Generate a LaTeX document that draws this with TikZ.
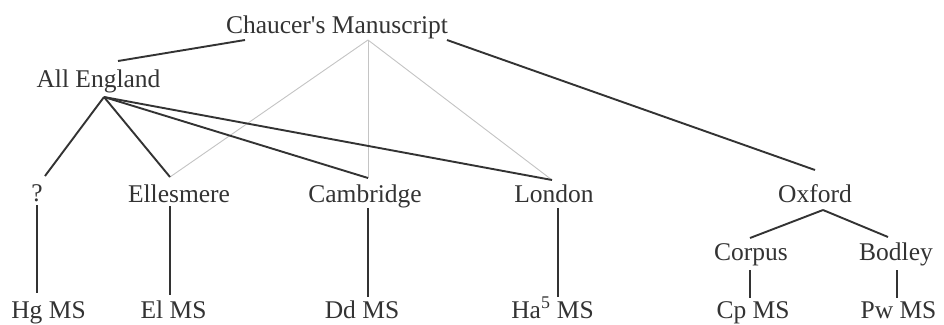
\documentclass[tikz,border=0pt]{standalone}
\usepackage{fontspec}
\newfontfamily\libserif{Liberation Serif}
\definecolor{ink}{HTML}{333333}
\definecolor{faint}{HTML}{C4C4C4}
\begin{document}
\begin{tikzpicture}[x=1pt,y=-1pt,
  lbl/.style={anchor=base,inner sep=0pt,text=ink,font=\libserif\fontsize{25.5}{30}\selectfont},
  edge/.style={draw=ink,line width=1.9pt},
  faintedge/.style={draw=faint,line width=0.9pt},
  vert/.style={draw=ink,line width=1.2pt}]
\useasboundingbox[fill=white] (0,0) rectangle (944,324);
% labels
\node[lbl] (cm) at (337,33) {Chaucer's Manuscript};
\node[lbl] (ae) at (98.5,87) {All England};
\node[lbl] (q) at (37,201) {?};
\node[lbl] (el) at (179,202) {Ellesmere};
\node[lbl] (ca) at (365,202) {Cambridge};
\node[lbl] (lo) at (554,202) {London};
\node[lbl] (ox) at (815,202) {Oxford};
\node[lbl] (co) at (751,260.5) {Corpus};
\node[lbl] (bo) at (896,260.5) {Bodley};
\node[lbl] (hg) at (48.5,318) {Hg MS};
\node[lbl] (elms) at (173.5,318) {El MS};
\node[lbl] (dd) at (362,318) {Dd MS};
\node[lbl] (ha) at (552.5,318) {Ha\textsuperscript{5} MS};
\node[lbl] (cp) at (753,318) {Cp MS};
\node[lbl] (pw) at (898.5,318) {Pw MS};
% attachment points
\coordinate (cm-l) at (245,40);
\coordinate (cm-m) at (368,40);
\coordinate (cm-r) at (447,40);
\coordinate (ae-t) at (118,61);
\coordinate (ae-b) at (104,97);
\coordinate (q-t) at (45,176);
\coordinate (q-b) at (37,205);
\coordinate (el-t) at (170,177);
\coordinate (el-b) at (170,206);
\coordinate (ca-t) at (368,178);
\coordinate (ca-b) at (368,208);
\coordinate (lo-t) at (552,180);
\coordinate (lo-b) at (558,208);
\coordinate (ox-t) at (815,170);
\coordinate (ox-b) at (823,210);
\coordinate (co-t) at (750,238);
\coordinate (co-b) at (750,270);
\coordinate (bo-t) at (888,237);
\coordinate (bo-b) at (897,270);
\coordinate (hg-t) at (37,293);
\coordinate (elms-t) at (170,295);
\coordinate (dd-t) at (368,297);
\coordinate (ha-t) at (558,297);
\coordinate (cp-t) at (750,298);
\coordinate (pw-t) at (897,298);
% faint links
\draw[faintedge] (cm-m) -- (el-t);
\draw[faintedge] (cm-m) -- (ca-t);
\draw[faintedge] (cm-m) -- (lo-t);
% main links
\draw[edge] (cm-l) -- (ae-t);
\draw[edge] (cm-r) -- (ox-t);
\draw[edge] (ae-b) -- (q-t);
\draw[edge] (ae-b) -- (el-t);
\draw[edge] (ae-b) -- (ca-t);
\draw[edge] (ae-b) -- (lo-t);
\draw[edge] (ox-b) -- (co-t);
\draw[edge] (ox-b) -- (bo-t);
% verticals
\draw[vert] (q-b) -- (hg-t);
\draw[vert] (el-b) -- (elms-t);
\draw[vert] (ca-b) -- (dd-t);
\draw[vert] (lo-b) -- (ha-t);
\draw[vert] (co-b) -- (cp-t);
\draw[vert] (bo-b) -- (pw-t);
\end{tikzpicture}
\end{document}
